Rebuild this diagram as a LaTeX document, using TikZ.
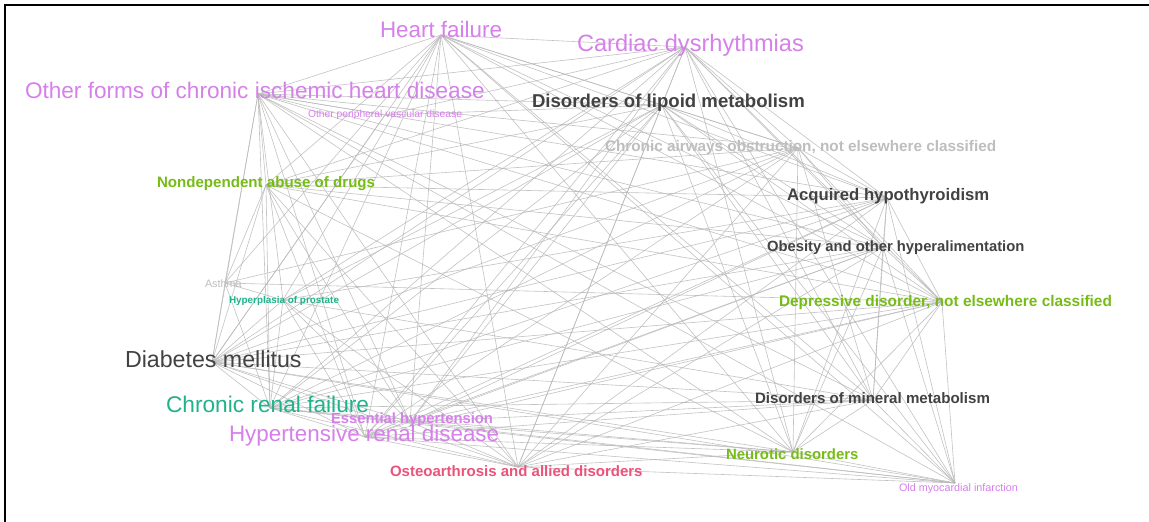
\documentclass[tikz,border=0pt]{standalone}
\usepackage{fontspec}
\setmainfont{Liberation Sans}
\definecolor{cpurple}{RGB}{214,128,234}
\definecolor{cgreen}{RGB}{118,188,22}
\definecolor{cteal}{RGB}{32,178,138}
\definecolor{cdark}{RGB}{66,66,66}
\definecolor{clight}{RGB}{190,190,190}
\definecolor{cpink}{RGB}{236,82,122}
\definecolor{cedge}{RGB}{184,184,184}
\newcommand{\fs}[1]{\fontsize{#1}{#1}\selectfont}
\begin{document}
\begin{tikzpicture}[x=1pt,y=-1pt,
  edge/.style={draw=cedge,line width=0.6pt,opacity=0.85},
  lbl/.style={inner sep=0pt,outer sep=0pt,anchor=base west}]
\useasboundingbox (0,0) rectangle (1149,522);
\fill[white] (0,0) rectangle (1149,522);
\draw[line width=1.8pt,black] (5,522) -- (5,5) -- (1149,5);
% graph vertices
\coordinate (hf)  at (441,35);
\coordinate (cd)  at (685,47);
\coordinate (ofc) at (258,94);
\coordinate (opv) at (385,115);
\coordinate (lip) at (662,105);
\coordinate (cao) at (798,148);
\coordinate (nad) at (266,185);
\coordinate (ah)  at (887,198);
\coordinate (ob)  at (883,247);
\coordinate (ast) at (225,283);
\coordinate (hp)  at (283,300);
\coordinate (dep) at (942,302);
\coordinate (dm)  at (212,362);
\coordinate (crf) at (270,408);
\coordinate (eh)  at (410,422);
\coordinate (hrd) at (365,437);
\coordinate (dmm) at (873,400);
\coordinate (oa)  at (518,467);
\coordinate (nd)  at (793,452);
\coordinate (omi) at (955,483);
% edges
\foreach \a/\b in {
 hf/cd,hf/ofc,hf/lip,hf/cao,hf/nad,hf/ah,hf/ob,hf/ast,hf/hp,hf/dep,hf/dm,hf/crf,hf/eh,hf/hrd,hf/dmm,hf/oa,hf/nd,hf/omi,
 cd/ofc,cd/lip,cd/cao,cd/nad,cd/ah,cd/ob,cd/hp,cd/dep,cd/dm,cd/crf,cd/eh,cd/hrd,cd/dmm,cd/oa,cd/nd,cd/omi,cd/opv,
 ofc/lip,ofc/opv,ofc/cao,ofc/nad,ofc/ah,ofc/ob,ofc/dep,ofc/dm,ofc/crf,ofc/eh,ofc/hrd,ofc/dmm,ofc/oa,ofc/nd,ofc/omi,ofc/ast,ofc/hp,
 lip/opv,lip/cao,lip/ah,lip/ob,lip/dep,lip/dm,lip/crf,lip/eh,lip/hrd,lip/dmm,lip/oa,lip/nd,lip/omi,lip/nad,lip/hp,
 cao/ah,cao/ob,cao/dep,cao/dm,cao/crf,cao/hrd,cao/oa,cao/nd,cao/nad,cao/ast,cao/dmm,
 nad/ah,nad/ob,nad/dep,nad/dm,nad/crf,nad/hrd,nad/ast,nad/nd,nad/oa,nad/eh,
 ah/ob,ah/dep,ah/dm,ah/crf,ah/hrd,ah/eh,ah/dmm,ah/oa,ah/nd,ah/omi,ah/hp,
 ob/dep,ob/dm,ob/crf,ob/hrd,ob/eh,ob/dmm,ob/oa,ob/nd,ob/omi,
 ast/dm,ast/hp,ast/crf,ast/dep,
 hp/dm,hp/crf,hp/hrd,hp/eh,hp/dmm,hp/oa,
 dep/dm,dep/crf,dep/hrd,dep/eh,dep/dmm,dep/oa,dep/nd,dep/omi,
 dm/crf,dm/hrd,dm/eh,dm/dmm,dm/oa,dm/nd,dm/omi,dm/opv,
 crf/hrd,crf/eh,crf/dmm,crf/oa,crf/nd,crf/omi,
 eh/hrd,eh/oa,eh/dmm,eh/nd,eh/omi,
 hrd/dmm,hrd/oa,hrd/nd,hrd/omi,
 dmm/oa,dmm/nd,dmm/omi,
 oa/nd,oa/omi,
 nd/omi}
 \draw[edge] (\a) -- (\b);
% labels
\node[lbl,text=cpurple,font=\fs{22.4}] (hf-l) at (380,37) {Heart failure};
\node[lbl,text=cpurple,font=\fs{23.6}] (cd-l) at (577,51) {Cardiac dysrhythmias};
\node[lbl,text=cpurple,font=\fs{22.6}] (ofc-l) at (25,98) {Other forms of chronic ischemic heart disease};
\node[lbl,text=cpurple,font=\fs{10.3}] (opv-l) at (308,117) {Other peripheral vascular disease};
\node[lbl,text=cdark,font=\bfseries\fs{18.6}] (lip-l) at (532,107) {Disorders of lipoid metabolism};
\node[lbl,text=clight,font=\bfseries\fs{15.3}] (cao-l) at (605,151) {Chronic airways obstruction, not elsewhere classified};
\node[lbl,text=cgreen,font=\bfseries\fs{15.1}] (nad-l) at (157,187) {Nondependent abuse of drugs};
\node[lbl,text=cdark,font=\bfseries\fs{16.7}] (ah-l) at (787,200) {Acquired hypothyroidism};
\node[lbl,text=cdark,font=\bfseries\fs{14.8}] (ob-l) at (767,251.5) {Obesity and other hyperalimentation};
\node[lbl,text=clight,font=\fs{10.8}] (ast-l) at (205,287) {Asthma};
\node[lbl,text=cteal,font=\bfseries\fs{9.9}] (hp-l) at (229,303) {Hyperplasia of prostate};
\node[lbl,text=cgreen,font=\bfseries\fs{15.4}] (dep-l) at (779,306.5) {Depressive disorder, not elsewhere classified};
\node[lbl,text=cdark,font=\fs{23.2}] (dm-l) at (125,367) {Diabetes mellitus};
\node[lbl,text=cteal,font=\fs{22.7}] (crf-l) at (166,412) {Chronic renal failure};
\node[lbl,text=cpurple,font=\bfseries\fs{14.8}] (eh-l) at (331,423.5) {Essential hypertension};
\node[lbl,text=cpurple,font=\fs{22.4}] (hrd-l) at (229,441) {Hypertensive renal disease};
\node[lbl,text=cdark,font=\bfseries\fs{15.1}] (dmm-l) at (755,403) {Disorders of mineral metabolism};
\node[lbl,text=cpink,font=\bfseries\fs{15.0}] (oa-l) at (390,476) {Osteoarthrosis and allied disorders};
\node[lbl,text=cgreen,font=\bfseries\fs{14.9}] (nd-l) at (726,459) {Neurotic disorders};
\node[lbl,text=cpurple,font=\fs{10.8}] (omi-l) at (899,491) {Old myocardial infarction};
\end{tikzpicture}
\end{document}
